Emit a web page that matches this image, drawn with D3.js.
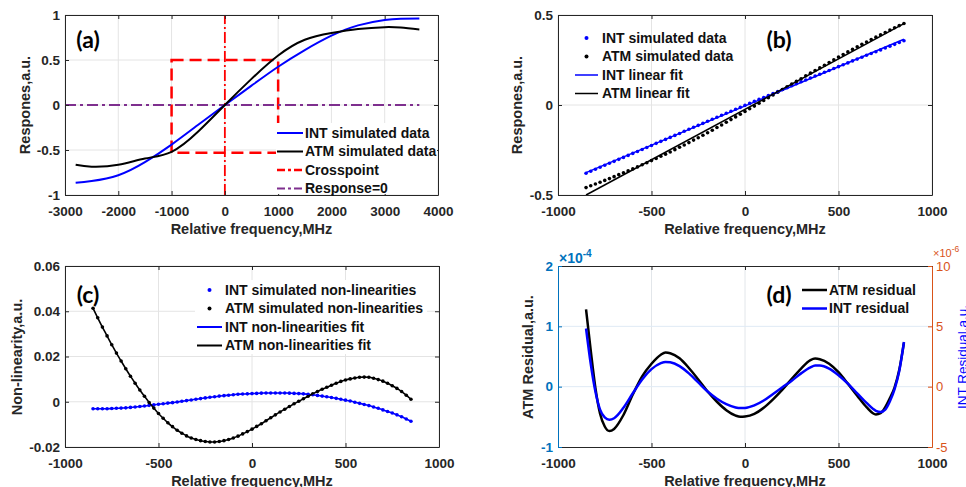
<!DOCTYPE html>
<html><head><meta charset="utf-8">
<script src="https://cdn.jsdelivr.net/npm/d3@7"></script>
<style>body{margin:0;background:#fff;}svg{display:block;font-family:"Liberation Sans",Arial,sans-serif;}</style>
</head><body>
<svg id="chart" width="966" height="487"></svg>
<script>
// ---------- Panel (a) ----------
const aFreq = [-2800,-2500,-2000,-1500,-1000,-500,0,500,1000,1500,2000,2500,3000,3300,3650];
const aINT  = [-0.865,-0.845,-0.78,-0.635,-0.44,-0.22,0,0.215,0.425,0.61,0.77,0.885,0.945,0.958,0.962];
const aATM  = [-0.665,-0.685,-0.665,-0.595,-0.52,-0.295,0,0.29,0.55,0.725,0.80,0.845,0.865,0.86,0.84];
const crossBoxFreq = [-1000, 1000];
const crossBoxResp = [-0.53, 0.5];
const crossFreq = 0;
const zeroLineFreq = [-3000, 3650];
const aXTicks = [-3000,-2000,-1000,0,1000,2000,3000,4000];
const aYTicks = [-1,-0.5,0,0.5,1];

// ---------- Panels (b), (c) simulated data ----------
const simFreq = [-850,-825,-800,-775,-750,-725,-700,-675,-650,-625,-600,-575,-550,-525,-500,-475,-450,-425,-400,-375,-350,-325,-300,-275,-250,-225,-200,-175,-150,-125,-100,-75,-50,-25,0,25,50,75,100,125,150,175,200,225,250,275,300,325,350,375,400,425,450,475,500,525,550,575,600,625,650,675,700,725,750,775,800,825,850];
const bINT = [-0.379,-0.368,-0.357,-0.346,-0.335,-0.324,-0.313,-0.302,-0.291,-0.280,
  -0.269,-0.258,-0.247,-0.236,-0.225,-0.213,-0.202,-0.191,-0.180,-0.169,
  -0.158,-0.146,-0.135,-0.124,-0.113,-0.102,-0.090,-0.079,-0.068,-0.057,
  -0.046,-0.035,-0.024,-0.013,-0.002,0.009,0.020,0.031,0.042,0.053,
  0.064,0.075,0.086,0.096,0.107,0.118,0.129,0.139,0.150,0.161,
  0.171,0.182,0.192,0.203,0.213,0.224,0.234,0.245,0.255,0.265,
  0.276,0.286,0.296,0.306,0.317,0.327,0.337,0.347,0.357];
const bATM = [-0.459,-0.449,-0.439,-0.429,-0.419,-0.409,-0.398,-0.387,-0.377,-0.366,
  -0.355,-0.344,-0.332,-0.321,-0.309,-0.297,-0.285,-0.273,-0.261,-0.248,
  -0.235,-0.222,-0.209,-0.195,-0.182,-0.168,-0.154,-0.140,-0.125,-0.111,
  -0.096,-0.081,-0.066,-0.051,-0.036,-0.021,-0.006,0.010,0.025,0.040,
  0.056,0.071,0.086,0.101,0.116,0.131,0.146,0.162,0.177,0.192,
  0.206,0.221,0.236,0.251,0.266,0.280,0.295,0.309,0.323,0.337,
  0.350,0.364,0.377,0.390,0.403,0.416,0.429,0.441,0.453];
const fitFreq = [-850, 850];
const bINTfit = [-0.376, 0.365];
const bATMfit = [-0.500, 0.452];
const bXTicks = [-1000,-500,0,500,1000];
const bYTicks = [-0.5,0,0.5];

const cINT = [-0.0031,-0.0031,-0.0031,-0.0031,-0.0030,-0.0029,-0.0028,-0.0027,-0.0025,-0.0023,
  -0.0021,-0.0019,-0.0016,-0.0014,-0.0011,-0.0009,-0.0006,-0.0004,-0.0001,0.0002,
  0.0005,0.0008,0.0011,0.0014,0.0017,0.0020,0.0022,0.0025,0.0027,0.0029,
  0.0031,0.0033,0.0034,0.0035,0.0036,0.0037,0.0038,0.0039,0.0039,0.0039,
  0.0039,0.0039,0.0038,0.0037,0.0036,0.0035,0.0033,0.0031,0.0028,0.0025,
  0.0022,0.0019,0.0015,0.0011,0.0007,0.0003,-0.0002,-0.0007,-0.0012,-0.0017,
  -0.0023,-0.0029,-0.0036,-0.0043,-0.0050,-0.0058,-0.0066,-0.0076,-0.0086];
const cATM = [0.0413,0.0371,0.0330,0.0291,0.0252,0.0215,0.0180,0.0146,0.0113,0.0082,
  0.0052,0.0024,-0.0003,-0.0028,-0.0052,-0.0073,-0.0093,-0.0110,-0.0126,-0.0139,
  -0.0151,-0.0160,-0.0167,-0.0172,-0.0176,-0.0178,-0.0178,-0.0176,-0.0172,-0.0167,
  -0.0160,-0.0152,-0.0142,-0.0132,-0.0121,-0.0109,-0.0097,-0.0084,-0.0071,-0.0058,
  -0.0045,-0.0033,-0.0021,-0.0009,0.0002,0.0013,0.0024,0.0035,0.0045,0.0055,
  0.0064,0.0073,0.0082,0.0090,0.0096,0.0101,0.0105,0.0108,0.0109,0.0108,
  0.0104,0.0098,0.0091,0.0082,0.0071,0.0059,0.0045,0.0029,0.0011];
const cYTicks = [-0.02,0,0.02,0.04,0.06];

// ---------- Panel (d) residuals ----------
const dFreq = [-850,-825,-800,-775,-750,-725,-700,-650,-600,-550,-500,-450,-425,-400,-350,-300,-250,-200,-150,-100,-50,-25,0,50,100,150,200,250,300,350,375,400,450,500,550,600,650,700,725,750,775,800,825,850];
const dATM = [1.28,0.60,-0.02,-0.45,-0.66,-0.735,-0.70,-0.47,-0.13,0.17,0.38,0.53,0.565,0.555,0.47,0.31,0.12,-0.08,-0.25,-0.39,-0.48,-0.50,-0.495,-0.45,-0.35,-0.21,-0.05,0.13,0.30,0.44,0.465,0.455,0.38,0.24,0.05,-0.15,-0.34,-0.46,-0.44,-0.34,-0.19,-0.01,0.28,0.73]; // x1e-4
const dINT = [4.82,1.9,-0.4,-1.9,-2.55,-2.74,-2.62,-1.75,-0.55,0.6,1.45,1.95,2.05,2.02,1.7,1.1,0.35,-0.4,-1.0,-1.45,-1.72,-1.77,-1.76,-1.55,-1.15,-0.6,-0.05,0.5,1.1,1.6,1.75,1.76,1.5,0.95,0.25,-0.55,-1.35,-2.0,-2.1,-1.9,-1.2,-0.2,1.3,3.7]; // x1e-6
const dYLTicks = [-1,0,1,2];
const dYRTicks = [-5,0,5,10];

const BLUE = "#0000FF", RED = "#FF0000", PURPLE = "#7E2F8E", MBLUE = "#0072BD", ORANGE = "#D95319", AX = "#262626";

const svg = d3.select("#chart");

function panel(o) {
  const x = d3.scaleLinear().domain(o.xd).range([o.l, o.r]);
  const y = d3.scaleLinear().domain(o.yd).range([o.b, o.t]);
  const g = svg.append("g");
  g.append("rect").attr("x", o.l).attr("y", o.t).attr("width", o.r - o.l).attr("height", o.b - o.t).attr("fill", "#fff");
  g.append("g").selectAll("line").data(o.gx).join("line")
    .attr("x1", d => x(d)).attr("x2", d => x(d)).attr("y1", o.t).attr("y2", o.b)
    .attr("stroke", o.gxc || "#e4e4e4").attr("stroke-width", 1);
  g.append("g").selectAll("line").data(o.gy).join("line")
    .attr("y1", d => y(d)).attr("y2", d => y(d)).attr("x1", o.l).attr("x2", o.r)
    .attr("stroke", o.gyc || "#e4e4e4").attr("stroke-width", 1);
  return {x, y, g, o};
}

function styleAxis(sel, color, bold, size) {
  sel.select(".domain").attr("stroke", color).attr("stroke-width", 1);
  sel.selectAll(".tick line").attr("stroke", color);
  sel.selectAll("text").attr("fill", color).attr("font-size", size || 13.5)
    .attr("font-weight", bold === false ? "normal" : "bold")
    .attr("font-family", '"Liberation Sans",Arial,sans-serif');
}

function axes(p, xt, yt, opts = {}) {
  const {x, y, g, o} = p;
  const fmt = d => String(d);
  const bx = g.append("g").attr("transform", `translate(0,${o.b})`)
    .call(d3.axisBottom(x).tickValues(xt).tickSize(-4).tickSizeOuter(0).tickPadding(11).tickFormat(fmt));
  styleAxis(bx, AX);
  const tx = g.append("g").attr("transform", `translate(0,${o.t})`)
    .call(d3.axisTop(x).tickValues(xt).tickSize(-4).tickSizeOuter(0).tickFormat(""));
  styleAxis(tx, AX);
  const lc = opts.leftColor || AX;
  const ly = g.append("g").attr("transform", `translate(${o.l},0)`)
    .call(d3.axisLeft(y).tickValues(yt).tickSize(-4).tickSizeOuter(0).tickPadding(5).tickFormat(fmt));
  styleAxis(ly, lc);
  if (opts.right) {
    const yr = opts.right.scale;
    const ry = g.append("g").attr("transform", `translate(${o.r},0)`)
      .call(d3.axisRight(yr).tickValues(opts.right.ticks).tickSize(-4).tickSizeOuter(0).tickPadding(4).tickFormat(fmt));
    styleAxis(ry, opts.right.color, false, 13);
  } else {
    const ry = g.append("g").attr("transform", `translate(${o.r},0)`)
      .call(d3.axisRight(y).tickValues(yt).tickSize(-4).tickSizeOuter(0).tickFormat(""));
    styleAxis(ry, AX);
  }
  // x title
  g.append("text").attr("x", (o.l + o.r) / 2).attr("y", o.b + 39)
    .attr("text-anchor", "middle").attr("font-size", 14.5).attr("font-weight", "bold")
    .attr("fill", AX).text("Relative frequency,MHz");
}

function yTitle(text, cx, cy, color, bold, size) {
  svg.append("text").attr("transform", `translate(${cx},${cy}) rotate(-90)`)
    .attr("text-anchor", "middle").attr("dy", "0.35em")
    .attr("font-size", size || 14.5).attr("font-weight", bold === false ? "normal" : "bold")
    .attr("fill", color || AX).text(text);
}

function panelLabel(text, x, y) {
  svg.append("text").attr("x", x).attr("y", y).attr("text-anchor", "middle").attr("dy", "0.35em")
    .attr("font-family", "Lato, 'Open Sans', sans-serif").attr("font-weight", "bold")
    .attr("font-size", 23).attr("fill", "#000").text(text);
}

function legend(items, x1, x2, tx, y0, dy, bg) {
  const g = svg.append("g");
  if (bg) g.append("rect").attr("x", bg[0]).attr("y", bg[1]).attr("width", bg[2]).attr("height", bg[3]).attr("fill", "#fff");
  items.forEach((it, i) => {
    const y = y0 + i * dy;
    if (it.type === "dot") {
      g.append("circle").attr("cx", (x1 + x2) / 2).attr("cy", y).attr("r", 2).attr("fill", it.color);
    } else {
      g.append("line").attr("x1", x1).attr("x2", x2).attr("y1", y).attr("y2", y)
        .attr("stroke", it.color).attr("stroke-width", it.w || 2)
        .attr("stroke-dasharray", it.dash || null);
    }
    g.append("text").attr("x", tx).attr("y", y).attr("dy", "0.35em")
      .attr("font-size", 14).attr("font-weight", "bold").attr("fill", "#111").text(it.label);
  });
}

// ================= Panel (a) =================
{
  const p = panel({l: 65, r: 438, t: 15, b: 195, xd: [-3000, 4000], yd: [-1, 1],
    gx: aXTicks, gy: aYTicks});
  const {x, y, g} = p;
  const line = d3.line().curve(d3.curveNatural);
  g.append("rect")
    .attr("x", x(crossBoxFreq[0])).attr("y", y(crossBoxResp[1]))
    .attr("width", x(crossBoxFreq[1]) - x(crossBoxFreq[0]))
    .attr("height", y(crossBoxResp[0]) - y(crossBoxResp[1]))
    .attr("fill", "none").attr("stroke", RED).attr("stroke-width", 2.5).attr("stroke-dasharray", "12,6");
  g.append("line").attr("x1", x(crossFreq)).attr("x2", x(crossFreq)).attr("y1", y(-1)).attr("y2", y(1))
    .attr("stroke", RED).attr("stroke-width", 1.8).attr("stroke-dasharray", "11,3,2,3");
  g.append("line").attr("x1", x(zeroLineFreq[0])).attr("x2", x(zeroLineFreq[1])).attr("y1", y(0)).attr("y2", y(0))
    .attr("stroke", PURPLE).attr("stroke-width", 1.8).attr("stroke-dasharray", "11,4,3,4");
  g.append("path").attr("d", line(aFreq.map((f, i) => [x(f), y(aINT[i])])))
    .attr("fill", "none").attr("stroke", BLUE).attr("stroke-width", 2);
  g.append("path").attr("d", line(aFreq.map((f, i) => [x(f), y(aATM[i])])))
    .attr("fill", "none").attr("stroke", "#000").attr("stroke-width", 2);
  axes(p, aXTicks, aYTicks);
  yTitle("Respones,a.u.", 25, 105);
  panelLabel("(a)", 88, 40);
  legend([
    {label: "INT simulated data", color: BLUE},
    {label: "ATM simulated data", color: "#000"},
    {label: "Crosspoint", color: RED, w: 2.5, dash: "8,3,3,3"},
    {label: "Response=0", color: PURPLE, w: 2, dash: "8,3,3,3"}
  ], 277, 303, 305, 133, 18.5, [276, 123, 161, 71]);
}

// ================= Panel (b) =================
{
  const p = panel({l: 558, r: 932, t: 15, b: 195, xd: [-1000, 1000], yd: [-0.5, 0.5],
    gx: bXTicks, gy: bYTicks});
  const {x, y, g} = p;
  g.append("g").selectAll("circle").data(simFreq).join("circle")
    .attr("cx", d => x(d)).attr("cy", (d, i) => y(bINT[i])).attr("r", 1.8).attr("fill", BLUE);
  g.append("g").selectAll("circle").data(simFreq).join("circle")
    .attr("cx", d => x(d)).attr("cy", (d, i) => y(bATM[i])).attr("r", 1.8).attr("fill", "#000");
  const line = d3.line();
  g.append("path").attr("d", line(fitFreq.map((f, i) => [x(f), y(bINTfit[i])])))
    .attr("fill", "none").attr("stroke", BLUE).attr("stroke-width", 1.5);
  g.append("path").attr("d", line(fitFreq.map((f, i) => [x(f), y(bATMfit[i])])))
    .attr("fill", "none").attr("stroke", "#000").attr("stroke-width", 1.5);
  axes(p, bXTicks, bYTicks);
  yTitle("Respones,a.u.", 517, 105);
  panelLabel("(b)", 779, 40);
  legend([
    {label: "INT simulated data", color: BLUE, type: "dot"},
    {label: "ATM simulated data", color: "#000", type: "dot"},
    {label: "INT linear fit", color: BLUE, w: 1.5},
    {label: "ATM linear fit", color: "#000", w: 1.5}
  ], 575, 598, 602, 38, 18.5);
}

// ================= Panel (c) =================
{
  const p = panel({l: 65, r: 439, t: 266, b: 447, xd: [-1000, 1000], yd: [-0.02, 0.06],
    gx: bXTicks, gy: cYTicks});
  const {x, y, g} = p;
  g.append("g").selectAll("circle").data(simFreq).join("circle")
    .attr("cx", d => x(d)).attr("cy", (d, i) => y(cINT[i])).attr("r", 1.8).attr("fill", BLUE);
  g.append("g").selectAll("circle").data(simFreq).join("circle")
    .attr("cx", d => x(d)).attr("cy", (d, i) => y(cATM[i])).attr("r", 1.8).attr("fill", "#000");
  const line = d3.line().curve(d3.curveMonotoneX);
  g.append("path").attr("d", line(simFreq.map((f, i) => [x(f), y(cINT[i])])))
    .attr("fill", "none").attr("stroke", BLUE).attr("stroke-width", 1.6);
  g.append("path").attr("d", line(simFreq.map((f, i) => [x(f), y(cATM[i])])))
    .attr("fill", "none").attr("stroke", "#000").attr("stroke-width", 1.6);
  legend([
    {label: "INT simulated non-linearities", color: BLUE, type: "dot"},
    {label: "ATM simulated non-linearities", color: "#000", type: "dot"},
    {label: "INT non-linearities fit", color: BLUE, w: 2},
    {label: "ATM non-linearities fit", color: "#000", w: 2}
  ], 197, 222, 225, 290, 18.5, [195, 280, 232, 74]);
  axes(p, bXTicks, cYTicks);
  yTitle("Non-linearity,a.u.", 17, 357);
  panelLabel("(c)", 88, 295);
}

// ================= Panel (d) =================
{
  const p = panel({l: 558, r: 932, t: 266, b: 447, xd: [-1000, 1000], yd: [-1, 2],
    gx: [-500, 0, 500], gy: [0, 1], gxc: "#e2e6ea", gyc: "#dfeaf5"});
  const {x, y, g} = p;
  const yR = d3.scaleLinear().domain([-5, 10]).range([447, 266]);
  const line = d3.line().curve(d3.curveMonotoneX);
  g.append("path").attr("d", line(dFreq.map((f, i) => [x(f), y(dATM[i])])))
    .attr("fill", "none").attr("stroke", "#000").attr("stroke-width", 2.5);
  g.append("path").attr("d", line(dFreq.map((f, i) => [x(f), yR(dINT[i])])))
    .attr("fill", "none").attr("stroke", BLUE).attr("stroke-width", 2.5);
  axes(p, bXTicks, dYLTicks, {leftColor: MBLUE, right: {scale: yR, ticks: dYRTicks, color: ORANGE}});
  yTitle("ATM Residual,a.u.", 528, 357);
  svg.append("text").attr("transform", "translate(967,357) rotate(-90)")
    .attr("text-anchor", "middle").attr("font-size", 13.5).attr("fill", BLUE).text("INT Residual,a.u.");
  const e1 = svg.append("text").attr("x", 559).attr("y", 263).attr("fill", MBLUE)
    .attr("font-size", 14).attr("font-weight", "bold");
  e1.append("tspan").text("\u00d710");
  e1.append("tspan").attr("dy", -6).attr("font-size", 10).text("-4");
  const e2 = svg.append("text").attr("x", 933).attr("y", 257).attr("fill", ORANGE)
    .attr("font-size", 11);
  e2.append("tspan").text("\u00d710");
  e2.append("tspan").attr("dy", -5).attr("font-size", 8.5).text("-6");
  panelLabel("(d)", 779, 295);
  legend([
    {label: "ATM residual", color: "#000", w: 2.5},
    {label: "INT residual", color: BLUE, w: 2.5}
  ], 802, 827, 829, 290, 18.5);
}
</script>
</body></html>
